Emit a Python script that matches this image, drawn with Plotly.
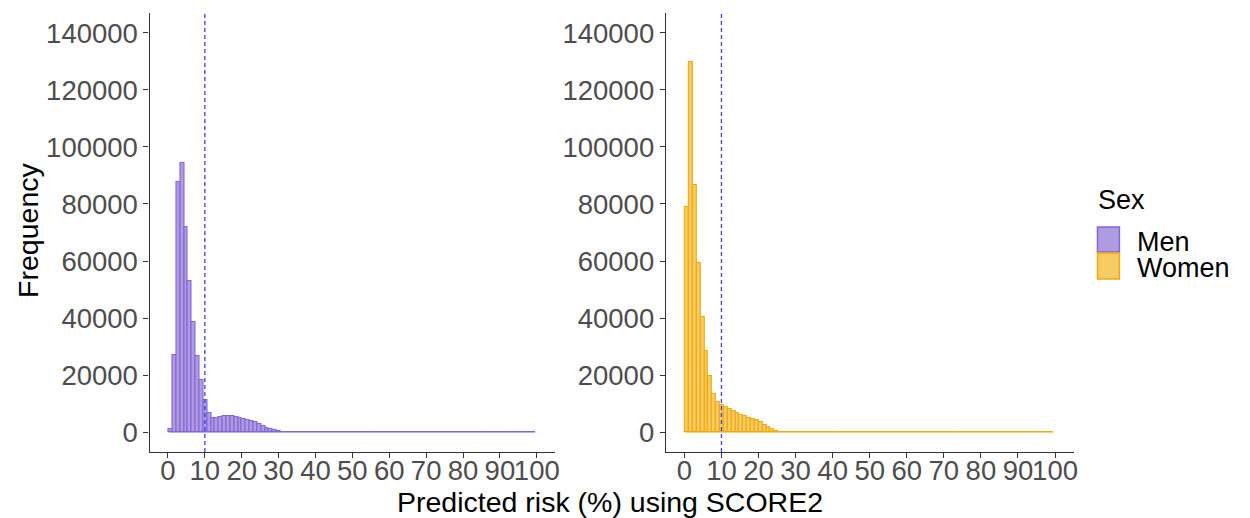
import plotly.graph_objects as go

# Histogram counts per bin of predicted SCORE2 risk (%), one array per sex
men_counts = [1000, 27000, 87700, 94500, 71900, 52900, 38500, 26700, 18400, 11100,
              6800, 5000, 5000, 5300, 5600, 5700, 5600, 5400, 5100, 4700,
              4300, 3900, 3400, 2800, 2100, 1500, 1000, 600, 350, 180,
              90, 40, 20, 10, 5] + [0] * 60
women_counts = [79100, 129700, 86800, 59400, 40200, 28300, 19700, 13200, 10400, 9400,
                8800, 8200, 7500, 6700, 6000, 5500, 5000, 4500, 4100, 3500,
                2600, 1600, 900, 400, 180, 80, 30, 10] + [0] * 67

# Binning used for both panels
n_bins = 95
bin_start = 0.18
bin_width = 1.046
bin_edges = [bin_start + bin_width * k for k in range(n_bins + 1)]
bin_centers = [bin_start + bin_width * (k + 0.5) for k in range(n_bins)]

x_ticks = list(range(0, 101, 10))
y_ticks = list(range(0, 140001, 20000))
threshold = 10

FONT = "Liberation Sans, Arial, sans-serif"
TICK_SIZE = 27.5
TITLE_SIZE = 28.5
LEGEND_SIZE = 27
AXIS_COLOR = "#333333"

sexes = ["Men", "Women"]
fills = {"Men": "#AF9BE2", "Women": "#F7CB63"}
outlines = {"Men": "#8466D6", "Women": "#F0A90C"}
flat_lines = {"Men": "rgba(132,102,214,0.55)", "Women": "rgba(240,169,12,0.55)"}
counts = {"Men": men_counts, "Women": women_counts}

W, H = 1250, 518
# panel extents in pixels
panels = {"Men": (150, 557), "Women": (668, 1077)}
top_px, bottom_px = 13, 452

fig = go.Figure()

for i, sex in enumerate(sexes):
    ax = "" if i == 0 else str(i + 1)
    xa, ya = "x" + ax, "y" + ax
    # zero-count bins show as a thin line along the baseline
    fig.add_trace(go.Scatter(
        x=[bin_edges[0], bin_edges[-1]], y=[0, 0], mode="lines",
        line=dict(color=flat_lines[sex], width=2),
        xaxis=xa, yaxis=ya, showlegend=False, hoverinfo="skip"))
    fig.add_trace(go.Bar(
        x=bin_centers, y=counts[sex], width=bin_width, name=sex,
        marker=dict(color=fills[sex], line=dict(color=outlines[sex], width=1.1)),
        xaxis=xa, yaxis=ya, showlegend=False))
    x0, x1 = panels[sex]
    axis_common = dict(
        showgrid=False, zeroline=False, showline=True, linecolor=AXIS_COLOR, linewidth=1.3,
        ticks="outside", ticklen=5, tickwidth=1.3, tickcolor=AXIS_COLOR, tickangle=0,
        tickfont=dict(family=FONT, size=TICK_SIZE, color="#4D4D4D"))
    fig.update_layout(**{
        "xaxis" + ax: dict(domain=[x0 / W, x1 / W], range=[-5, 105],
                           tickvals=x_ticks, ticktext=[str(v) for v in x_ticks],
                           anchor=ya, ticklabelstandoff=-11, **axis_common),
        "yaxis" + ax: dict(domain=[1 - bottom_px / H, 1 - top_px / H], range=[-7000, 147000],
                           tickvals=y_ticks, ticktext=[str(v) for v in y_ticks],
                           anchor=xa, **axis_common),
    })
    fig.add_shape(type="line", xref=xa, yref=ya + " domain", x0=threshold, x1=threshold,
                  y0=0, y1=1, line=dict(color="#3C3CF0", width=1.3, dash="4px,3px"))

annotations = [
    dict(text="Frequency", x=28 / W, y=1 - 230 / H, textangle=-90,
         font=dict(family=FONT, size=TITLE_SIZE, color="black")),
    dict(text="Predicted risk (%) using SCORE2", x=612 / W, y=1 - 502 / H,
         font=dict(family=FONT, size=TITLE_SIZE, color="black")),
    dict(text="Sex", x=1100 / W, y=1 - 200 / H, xanchor="left",
         font=dict(family=FONT, size=LEGEND_SIZE, color="black")),
]
legend_rows = {"Men": (227, 252), "Women": (253, 279)}
for sex in sexes:
    y0, y1 = legend_rows[sex]
    fig.add_shape(type="rect", xref="paper", yref="paper",
                  x0=1101 / W, x1=1123 / W, y0=1 - y1 / H, y1=1 - y0 / H,
                  fillcolor=fills[sex], line=dict(color=outlines[sex], width=1.5))
    annotations.append(dict(text=sex, x=1139 / W, y=1 - ((y0 + y1) / 2 + 2) / H,
                            xanchor="left", font=dict(family=FONT, size=LEGEND_SIZE, color="black")))
for a in annotations:
    a.update(xref="paper", yref="paper", showarrow=False)
    a.setdefault("xanchor", "center")
    a.setdefault("yanchor", "middle")

fig.update_layout(
    width=W, height=H, margin=dict(l=0, r=0, t=0, b=0),
    paper_bgcolor="white", plot_bgcolor="white",
    bargap=0, barmode="overlay", showlegend=False,
    annotations=annotations, font=dict(family=FONT),
)

fig.write_html("out.html")
